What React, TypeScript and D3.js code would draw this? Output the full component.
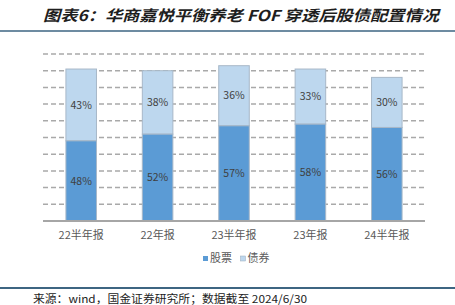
import React from "react";
import * as d3 from "d3";

const categories = ["22半年报", "22年报", "23半年报", "23年报", "24半年报"];
const stockValues = [48, 52, 57, 58, 56];
const bondValues = [43, 38, 36, 33, 30];
const gridTicks = [10, 20, 30, 40, 50, 60, 70, 80, 90, 100];
const seriesNames = ["股票", "债券"];
const colors = ["#5B9BD5", "#BDD7EE"];

const W = 455;
const H = 305;
const font = "'Noto Sans CJK SC', 'Noto Sans', sans-serif";

export default function App() {
  const x = d3.scaleBand<string>().domain(categories).range([43, 425]).paddingInner(0.6).paddingOuter(0.3);
  const y = d3.scaleLinear().domain([0, 100]).range([221, 54]);
  const bw = x.bandwidth();

  return (
    <svg width={W} height={H} style={{ position: "absolute", left: 0, top: 0, background: "#fff" }}>
      <text x={43} y={21} fontFamily={font} fontSize={15} fontStyle="italic" fontWeight="bold" fill="#1e1e1e" textLength={396} lengthAdjust="spacingAndGlyphs">
        图表6：华商嘉悦平衡养老 FOF 穿透后股债配置情况
      </text>
      <line x1={0} x2={W} y1={31} y2={31} stroke="#3d6582" strokeWidth={1.5} />

      {gridTicks.map((t) => (
        <line key={t} x1={43} x2={425} y1={y(t)} y2={y(t)} stroke="#a9a9a9" strokeWidth={1.5} strokeDasharray="5,3" />
      ))}

      {categories.map((c, i) => {
        const x0 = x(c)!;
        const s = stockValues[i];
        const b = bondValues[i];
        return (
          <g key={c}>
            <rect x={x0} y={y(s + b)} width={bw} height={y(s) - y(s + b)} fill={colors[1]} stroke="#a8b8c8" strokeWidth={1} />
            <rect x={x0} y={y(s)} width={bw} height={y(0) - y(s)} fill={colors[0]} stroke="#a8b8c8" strokeWidth={1} />
            <text x={x0 + bw / 2} y={y(s + b / 2)} dy="0.35em" textAnchor="middle" fontFamily={font} fontSize={10.5} fill="#404040">
              {b}%
            </text>
            <text x={x0 + bw / 2} y={y(s / 2)} dy="0.35em" textAnchor="middle" fontFamily={font} fontSize={10.5} fill="#404040">
              {s}%
            </text>
            <text x={x0 + bw / 2} y={235} dy="0.35em" textAnchor="middle" fontFamily={font} fontSize={11} fill="#595959">
              {c}
            </text>
          </g>
        );
      })}

      <line x1={43} x2={425} y1={221} y2={221} stroke="#a6a6a6" strokeWidth={2} />

      {seriesNames.map((n, i) => (
        <g key={n} transform={`translate(${203 + i * 37.5},0)`}>
          <rect x={0} y={256} width={5} height={5} fill={colors[i]} stroke={i === 1 ? "#9ab" : "none"} strokeWidth={0.5} />
          <text x={7} y={258.5} dy="0.35em" fontFamily={font} fontSize={11} fill="#595959">
            {n}
          </text>
        </g>
      ))}

      <line x1={0} x2={W} y1={288} y2={288} stroke="#3d6582" strokeWidth={2} />
      <text x={33} y={302.5} fontFamily={font} fontSize={11} fill="#222" textLength={274} lengthAdjust="spacingAndGlyphs">
        来源：wind，国金证券研究所；数据截至 2024/6/30
      </text>
    </svg>
  );
}
